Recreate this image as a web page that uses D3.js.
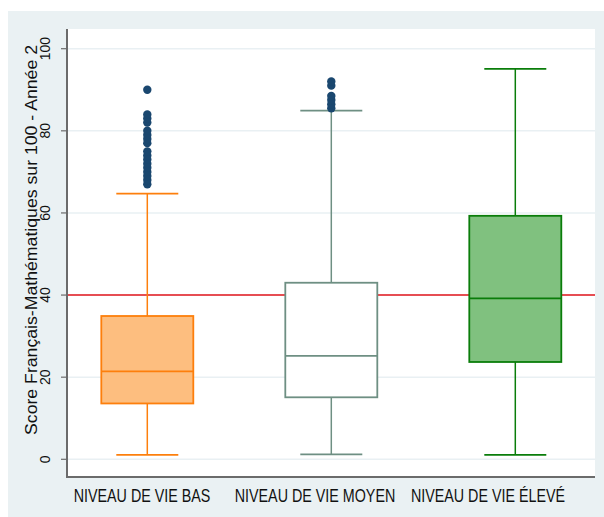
<!DOCTYPE html>
<html>
<head>
<meta charset="utf-8">
<script src="https://cdn.jsdelivr.net/npm/d3@7"></script>
<style>
  body { margin: 0; background: #fff; }
  text { font-family: "Liberation Sans", Arial, sans-serif; fill: #111; }
</style>
</head>
<body>
<div id="chart"></div>
<script>
// Données
const groups = ["NIVEAU DE VIE BAS", "NIVEAU DE VIE MOYEN", "NIVEAU DE VIE ÉLEVÉ"];
const lowWhisker = [1.1, 1.2, 1.1];
const q1 = [13.6, 15.1, 23.7];
const median = [21.4, 25.2, 39.2];
const q3 = [34.9, 43.0, 59.3];
const highWhisker = [64.7, 84.9, 95.1];
const outliers = [
    [67, 68, 69, 70, 71, 72, 73, 74, 75, 77, 78, 79, 80, 82, 83, 84, 90],
    [85.5, 86.5, 87.5, 88.5, 91, 92],
    []
];
const yTicks = [0, 20, 40, 60, 80, 100];
const refLine = 40;

// Couleurs par groupe
const fills = ["#fdbe7f", "#ffffff", "#80c17f"];
const strokes = ["#fd7f0c", "#6e8f83", "#0a7d0a"];

const width = 604, height = 517;
const plot = { left: 67, right: 595, top: 29, bottom: 477 };

const svg = d3.select("#chart").append("svg")
    .attr("width", width)
    .attr("height", height);

// Fond extérieur et zone du graphique
svg.append("rect").attr("x", 8).attr("y", 11).attr("width", width - 8).attr("height", height - 11)
    .attr("fill", "#eaf1f3");
svg.append("rect").attr("x", plot.left).attr("y", plot.top)
    .attr("width", plot.right - plot.left).attr("height", plot.bottom - plot.top)
    .attr("fill", "#ffffff");

const y = d3.scaleLinear().domain([0, 100]).range([459.3, 48.7]);
const x = d3.scaleBand().domain(groups).range([55.3, 607.3]);
const xLabel = d3.scalePoint().domain(groups).range([142, 488]);
const boxW = x.bandwidth() * 0.5;
const capW = 62;

// Grille horizontale
svg.append("g").selectAll("line").data(yTicks).join("line")
    .attr("x1", plot.left).attr("x2", plot.right)
    .attr("y1", d => y(d)).attr("y2", d => y(d))
    .attr("stroke", "#e9f0f3").attr("stroke-width", 1.5);

// Ligne de référence à 40
svg.append("line")
    .attr("x1", plot.left).attr("x2", plot.right)
    .attr("y1", y(refLine)).attr("y2", y(refLine))
    .attr("stroke", "#e3171d").attr("stroke-width", 1.6);

// Boîtes à moustaches
groups.forEach((g, i) => {
    const cx = x(g) + x.bandwidth() / 2;
    const gr = svg.append("g");
    // moustaches
    gr.append("line").attr("x1", cx).attr("x2", cx)
        .attr("y1", y(highWhisker[i])).attr("y2", y(q3[i]))
        .attr("stroke", strokes[i]).attr("stroke-width", 1.5);
    gr.append("line").attr("x1", cx).attr("x2", cx)
        .attr("y1", y(q1[i])).attr("y2", y(lowWhisker[i]))
        .attr("stroke", strokes[i]).attr("stroke-width", 1.5);
    [highWhisker[i], lowWhisker[i]].forEach(v => {
        gr.append("line").attr("x1", cx - capW / 2).attr("x2", cx + capW / 2)
            .attr("y1", y(v)).attr("y2", y(v))
            .attr("stroke", strokes[i]).attr("stroke-width", 1.8);
    });
    // boîte
    gr.append("rect")
        .attr("x", cx - boxW / 2).attr("y", y(q3[i]))
        .attr("width", boxW).attr("height", y(q1[i]) - y(q3[i]))
        .attr("fill", fills[i]).attr("stroke", strokes[i]).attr("stroke-width", 1.8);
    gr.append("line").attr("x1", cx - boxW / 2).attr("x2", cx + boxW / 2)
        .attr("y1", y(median[i])).attr("y2", y(median[i]))
        .attr("stroke", strokes[i]).attr("stroke-width", 1.8);
    // valeurs extrêmes
    gr.selectAll("circle").data(outliers[i]).join("circle")
        .attr("cx", cx).attr("cy", d => y(d)).attr("r", 4.2)
        .attr("fill", "#1a476f");
});

// Axe Y
const yAxis = svg.append("g");
yAxis.append("line").attr("x1", plot.left).attr("x2", plot.left)
    .attr("y1", plot.top).attr("y2", plot.bottom + 1)
    .attr("stroke", "#6b6b6b").attr("stroke-width", 2);
yAxis.selectAll(".tick").data(yTicks).join("line")
    .attr("x1", plot.left - 6).attr("x2", plot.left)
    .attr("y1", d => y(d)).attr("y2", d => y(d))
    .attr("stroke", "#6b6b6b").attr("stroke-width", 1.2);
yAxis.selectAll("text").data(yTicks).join("text")
    .attr("transform", d => `translate(50,${y(d)}) rotate(-90)`)
    .attr("text-anchor", "middle")
    .attr("font-size", "14px")
    .text(d => d);

// Axe X
svg.append("line").attr("x1", plot.left - 1).attr("x2", plot.right)
    .attr("y1", plot.bottom).attr("y2", plot.bottom)
    .attr("stroke", "#6b6b6b").attr("stroke-width", 2);
svg.append("g").selectAll("text").data(groups).join("text")
    .attr("transform", d => `translate(${xLabel(d)},502) scale(0.795,1)`)
    .attr("text-anchor", "middle")
    .attr("font-size", "18px")
    .text(d => d);

// Titre de l'axe Y
svg.append("text")
    .attr("transform", `translate(37,240) rotate(-90)`)
    .attr("text-anchor", "middle")
    .attr("font-size", "16.5px")
    .attr("textLength", 390)
    .attr("lengthAdjust", "spacingAndGlyphs")
    .text("Score Français-Mathématiques sur 100 - Année 2");
</script>
</body>
</html>
